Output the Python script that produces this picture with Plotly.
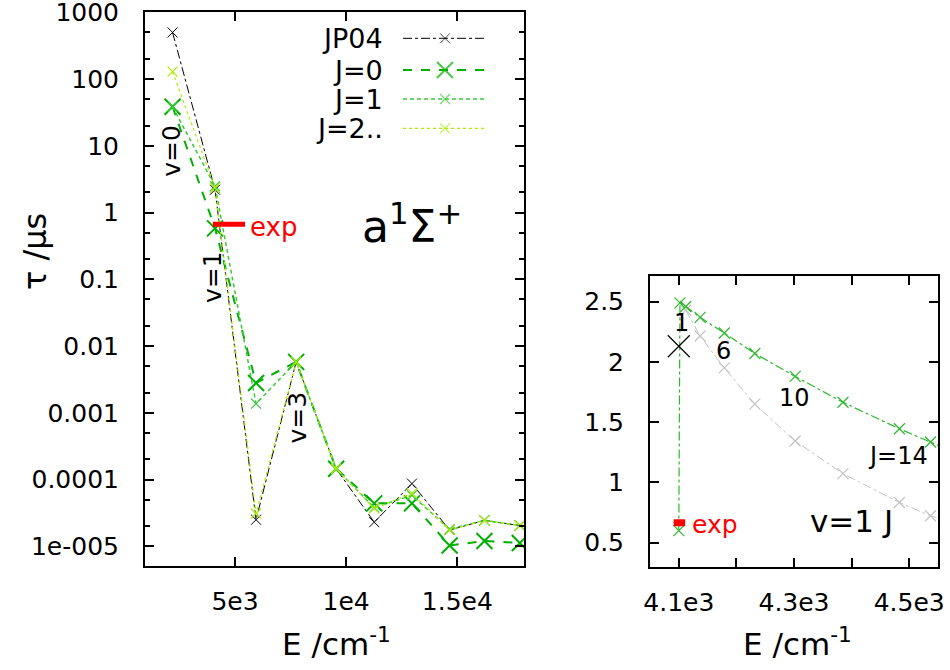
import plotly.graph_objects as go

# ---------------- data: left panel (vibrational levels) ----------------
E_v = [2190, 4100, 5946, 7750, 9550, 11262, 12960, 14654, 16220, 17810]
tau_JP04 = [500, 2.2, 2.5e-5, 0.0058, 1.45e-4, 2.3e-5, 8.7e-5, 1.75e-5, 2.45e-5, 2.05e-5]
tau_J0 = [38.5, 0.58, 0.0028, 0.0058, 1.45e-4, 4.4e-5, 4.4e-5, 1.03e-5, 1.2e-5, 1.12e-5]
tau_J1 = [38.5, 2.48, 0.00137, 0.0058, 1.45e-4, 3.8e-5, 5.8e-5, 1.8e-5, 2.45e-5, 2.05e-5]
tau_J2 = [129, 2.35, 3.1e-5, 0.0058, 1.45e-4, 3.7e-5, 6.2e-5, 1.75e-5, 2.45e-5, 2.05e-5]
exp_E = [4000, 5450]
exp_tau = 0.67

# ---------------- data: right panel (v=1, J levels) ----------------
E_J = [4100, 4102, 4112, 4137, 4179, 4232, 4302, 4385, 4483, 4537, 4598]
tau_J = [0.60, 2.49, 2.46, 2.37, 2.24, 2.07, 1.88, 1.665, 1.445, 1.335, 1.21]
E_Jg = [4112, 4137, 4179, 4232, 4302, 4385, 4483, 4537, 4598]
tau_Jg = [2.43, 2.215, 1.95, 1.65, 1.344, 1.073, 0.833, 0.723, 0.64]
E_JP04_v1 = [4100]
tau_JP04_v1 = [2.13]
exp_E_r = [4091, 4111]

left_xticks = [5000, 10000, 15000]
left_xtext = ["5e3", "1e4", "1.5e4"]
left_yticks = [1e-5, 1e-4, 1e-3, 1e-2, 1e-1, 1, 10, 100, 1000]
left_ytext = ["1e-005", "0.0001", "0.001", "0.01", "0.1", "1", "10", "100", "1000"]
right_xticks = [4100, 4300, 4500]
right_xtext = ["4.1e3", "4.3e3", "4.5e3"]
right_xminor = [4200, 4400]
right_yticks = [0.5, 1, 1.5, 2, 2.5]
right_ytext = ["0.5", "1", "1.5", "2", "2.5"]

legend_names = ["JP04", "J=0", "J=1", "J=2.."]

C_JP04 = "#000000"
C_J0 = "#00b000"
C_J1 = "#3cc83c"
C_J2 = "#aaee00"
C_R = "#2db82d"
C_G = "#c4c4c4"
RED = "#ff0000"

FONT = "DejaVu Sans"
W, H = 950, 670

def fx(px):
    return px / W

def fy(py):
    return 1 - py / H

styles = [
    dict(color=C_JP04, dash="dashdot", width=1, msize=10, mw=1),
    dict(color=C_J0, dash="dash", width=2, msize=16, mw=2),
    dict(color=C_J1, dash="4px,3px", width=1.5, msize=10, mw=1.2),
    dict(color=C_J2, dash="dot", width=1.2, msize=10, mw=1.2),
]
series = [tau_JP04, tau_J0, tau_J1, tau_J2]

fig = go.Figure()

for ys, st, nm in zip(series, styles, legend_names):
    fig.add_trace(go.Scatter(
        x=E_v, y=ys, mode="lines+markers", name=nm,
        line=dict(color=st["color"], dash=st["dash"], width=st["width"]),
        marker=dict(symbol="x-thin", size=st["msize"],
                    line=dict(color=st["color"], width=st["mw"])),
        xaxis="x", yaxis="y", showlegend=False))

fig.add_trace(go.Scatter(x=exp_E, y=[exp_tau, exp_tau], mode="lines",
                         line=dict(color=RED, width=5), xaxis="x", yaxis="y",
                         showlegend=False))

fig.add_trace(go.Scatter(x=E_Jg, y=tau_Jg, mode="lines+markers",
                         line=dict(color=C_G, dash="dashdot", width=1),
                         marker=dict(symbol="x-thin", size=11, line=dict(color=C_G, width=1.2)),
                         xaxis="x2", yaxis="y2", showlegend=False))
fig.add_trace(go.Scatter(x=E_J, y=tau_J, mode="lines+markers",
                         line=dict(color=C_R, dash="dashdot", width=1.2),
                         marker=dict(symbol="x-thin", size=11, line=dict(color=C_R, width=1.2)),
                         xaxis="x2", yaxis="y2", showlegend=False))
fig.add_trace(go.Scatter(x=E_JP04_v1, y=tau_JP04_v1, mode="markers",
                         marker=dict(symbol="x-thin", size=22, line=dict(color="#000000", width=1.2)),
                         xaxis="x2", yaxis="y2", showlegend=False))
fig.add_trace(go.Scatter(x=exp_E_r, y=[exp_tau - 0.005, exp_tau - 0.005], mode="lines",
                         line=dict(color=RED, width=7), xaxis="x2", yaxis="y2",
                         showlegend=False))

# panel frames in page pixels
L_x0, L_x1 = 145, 524
L_y0, L_y1 = 12.3, 566
R_x0, R_x1 = 650, 938
R_y0, R_y1 = 276, 567

def lx(p):
    return (p - L_x0) / (L_x1 - L_x0)

def ly(p):
    return (L_y1 - p) / (L_y1 - L_y0)

leg_rows = [38.3, 70, 99, 128.3]
annotations = []
for nm, st, ry in zip(legend_names, styles, leg_rows):
    yy = ly(ry)
    fig.add_trace(go.Scatter(
        x=[lx(403), lx(445), lx(487)], y=[yy, yy, yy], mode="lines+markers",
        line=dict(color=st["color"], dash=st["dash"], width=st["width"]),
        marker=dict(symbol="x-thin", size=[0, st["msize"], 0],
                    line=dict(color=st["color"], width=st["mw"])),
        xaxis="x3", yaxis="y3", showlegend=False, hoverinfo="skip"))
    annotations.append(dict(x=lx(385), y=yy, xref="x3", yref="y3", text=nm,
                            xanchor="right", yanchor="middle", showarrow=False,
                            font=dict(family=FONT, size=27, color="black")))

def ann(x, y, text, size, xref, yref, color="black", angle=0, xanchor="center", yanchor="middle"):
    annotations.append(dict(x=x, y=y, xref=xref, yref=yref, text=text, showarrow=False,
                            textangle=angle, xanchor=xanchor, yanchor=yanchor,
                            font=dict(family=FONT, size=size, color=color)))

ann(2162, 0.925, "v=0", 25, "x", "y", angle=-90)
ann(4009, -0.964, "v=1", 25, "x", "y", angle=-90)
ann(7816, -3.075, "v=3", 25, "x", "y", angle=-90)
ann(5585, -0.214, "exp", 26, "x", "y", color=RED, xanchor="left")
ann(12974, -0.17, "a<sup>1</sup>Σ<sup>+</sup>", 44, "x", "y")

ann(4104.7, 2.32, "1", 24, "x2", "y2")
ann(4177, 2.087, "6", 24, "x2", "y2")
ann(4301, 1.70, "10", 24, "x2", "y2")
ann(4480, 1.22, "J=14", 24, "x2", "y2")
ann(4399, 0.677, "v=1 J", 31, "x2", "y2")
ann(4119, 0.65, "exp", 25, "x2", "y2", color=RED, xanchor="left")

ann(fx(35), fy(252), "τ /μs", 32, "paper", "paper", angle=-90)
ann(fx(336), fy(642), "E /cm<sup>-1</sup>", 31, "paper", "paper")
ann(fx(797), fy(642), "E /cm<sup>-1</sup>", 31, "paper", "paper")

tickfont = dict(family=FONT, size=25, color="black")
axis_common = dict(showline=True, linewidth=2, linecolor="black", mirror="allticks",
                   ticks="inside", ticklen=9, tickwidth=1.5, tickcolor="black",
                   showgrid=False, zeroline=False, tickfont=tickfont, automargin=False,
                   ticklabeloverflow="allow")

minor_left = [m * 10.0 ** e for e in range(-6, 3) for m in (2, 5)]

fig.update_layout(
    width=W, height=H, margin=dict(l=0, r=0, t=0, b=0, autoexpand=False),
    paper_bgcolor="white", plot_bgcolor="rgba(0,0,0,0)", showlegend=False,
    hovermode=False,
    xaxis=dict(domain=[fx(L_x0), fx(L_x1)], range=[950, 18000], anchor="y",
               tickmode="array", tickvals=left_xticks, ticktext=left_xtext,
               ticklabelstandoff=12, **axis_common),
    yaxis=dict(domain=[fy(L_y1), fy(L_y0)], type="log", range=[-5.295, 3.0005], anchor="x",
               tickmode="array", tickvals=left_yticks, ticktext=left_ytext,
               ticklabelstandoff=19,
               minor=dict(tickmode="array", tickvals=minor_left, ticks="inside", ticklen=5,
                          tickwidth=1.5, tickcolor="black", showgrid=False),
               **axis_common),
    xaxis2=dict(domain=[fx(R_x0), fx(R_x1)], range=[4050, 4550], anchor="y2",
                tickmode="array", tickvals=right_xticks, ticktext=right_xtext,
                ticklabelstandoff=12,
                minor=dict(tickmode="array", tickvals=right_xminor, ticks="inside", ticklen=9,
                           tickwidth=1.5, tickcolor="black", showgrid=False),
                **axis_common),
    yaxis2=dict(domain=[fy(R_y1), fy(R_y0)], range=[0.298, 2.713], anchor="x2",
                tickmode="array", tickvals=right_yticks, ticktext=right_ytext,
                ticklabelstandoff=19, **axis_common),
    xaxis3=dict(domain=[fx(L_x0), fx(L_x1)], range=[0, 1], anchor="y3", visible=False,
                fixedrange=True, overlaying="x"),
    yaxis3=dict(domain=[fy(L_y1), fy(L_y0)], range=[0, 1], anchor="x3", visible=False,
                fixedrange=True, overlaying="y"),
    annotations=annotations,
)

# remove the default 8px page margin so the 950x670 figure fills the window
fig.write_html("out.html", config={"displayModeBar": False},
               post_script="document.body.style.margin='0px';")
